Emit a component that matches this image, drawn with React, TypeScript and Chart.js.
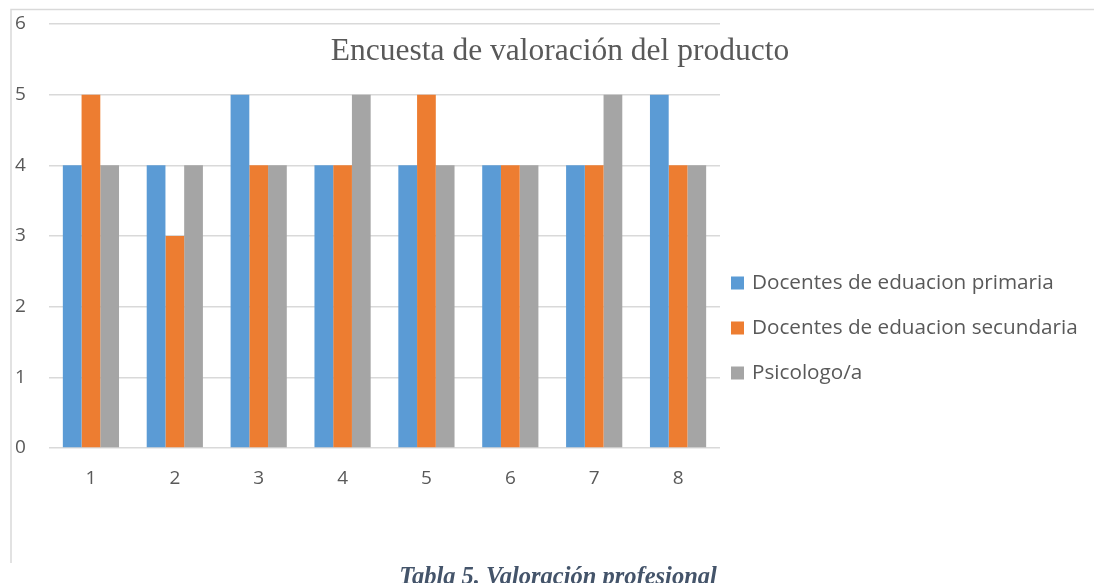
import React, { useEffect, useRef } from "react";
import { Chart, registerables } from "chart.js";

Chart.register(...registerables);

const categories = ["1", "2", "3", "4", "5", "6", "7", "8"];
const primaria = [4, 4, 5, 4, 4, 4, 4, 5];
const secundaria = [5, 3, 4, 4, 5, 4, 4, 4];
const psicologo = [4, 4, 4, 5, 4, 4, 5, 4];
const seriesLabels = [
  "Docentes de eduacion primaria",
  "Docentes de eduacion secundaria",
  "Psicologo/a",
];
const seriesColors = ["#5B9BD5", "#ED7D31", "#A5A5A5"];
const titleText = "Encuesta de valoración del producto";
const captionText = "Tabla 5. Valoración profesional";

const TEXT = "#595959";
const GRID = "#D9D9D9";
const SANS = "'Open Sans', 'Noto Sans', sans-serif";

const decorPlugin = {
  id: "decor",
  beforeDraw(chart: any) {
    const ctx = chart.ctx;
    ctx.save();
    ctx.strokeStyle = GRID;
    ctx.lineWidth = 1.5;
    ctx.beginPath();
    ctx.moveTo(11, 563);
    ctx.lineTo(11, 9.5);
    ctx.lineTo(1094, 9.5);
    ctx.stroke();
    ctx.restore();
  },
  afterDraw(chart: any) {
    const ctx = chart.ctx;
    ctx.save();
    // title
    ctx.fillStyle = TEXT;
    ctx.font = "31.5px 'Liberation Serif', 'Times New Roman', serif";
    ctx.textAlign = "center";
    ctx.textBaseline = "alphabetic";
    ctx.fillText(titleText, 560, 60);
    // legend
    const lx = 731;
    const ys = [283, 328, 373];
    ctx.font = "20.7px " + SANS;
    ctx.textAlign = "left";
    ctx.textBaseline = "middle";
    chart.data.datasets.forEach((ds: any, i: number) => {
      ctx.fillStyle = ds.backgroundColor;
      ctx.fillRect(lx, ys[i] - 6.5, 13, 13);
      ctx.fillStyle = TEXT;
      ctx.fillText(ds.label, lx + 21, ys[i]);
    });
    ctx.restore();
  },
};

export default function App() {
  const ref = useRef<HTMLCanvasElement | null>(null);
  useEffect(() => {
    if (!ref.current) return;
    const chart = new Chart(ref.current, {
      type: "bar",
      data: {
        labels: categories,
        datasets: [primaria, secundaria, psicologo].map((d, i) => ({
          label: seriesLabels[i],
          data: d,
          backgroundColor: seriesColors[i],
          borderWidth: 0,
          categoryPercentage: 0.67,
          barPercentage: 1,
        })),
      },
      options: {
        animation: false,
        responsive: false,
        maintainAspectRatio: false,
        layout: { padding: { left: 15, right: 374, top: 24, bottom: 60 } },
        plugins: {
          legend: { display: false },
          title: { display: false },
          tooltip: { enabled: false },
        },
        scales: {
          y: {
            min: 0,
            max: 6,
            ticks: {
              stepSize: 1,
              color: TEXT,
              font: { family: SANS, size: 19 },
              crossAlign: "far",
              padding: 0,
            },
            grid: { color: GRID, lineWidth: 1.5, drawTicks: false },
            border: { display: false },
            afterFit: (s: any) => {
              s.width = 34;
            },
          },
          x: {
            ticks: {
              color: TEXT,
              font: { family: SANS, size: 19 },
              padding: 19,
            },
            grid: { display: false, drawTicks: false },
            border: { display: false },
            afterFit: (s: any) => {
              s.height = 75;
            },
          },
        },
      },
      plugins: [decorPlugin],
    });
    return () => chart.destroy();
  }, []);

  return (
    <div style={{ position: "absolute", left: 0, top: 0, width: 1094, height: 583, overflow: "hidden", background: "#fff" }}>
      <canvas ref={ref} width={1094} height={583} style={{ position: "absolute", left: 0, top: 0 }} />
      <div
        style={{
          position: "absolute",
          left: 308,
          width: 500,
          top: 562,
          textAlign: "center",
          fontFamily: "'Liberation Serif', 'Times New Roman', serif",
          fontWeight: "bold",
          fontStyle: "italic",
          fontSize: 24.5,
          lineHeight: "28px",
          color: "#44546A",
          whiteSpace: "nowrap",
        }}
      >
        {captionText}
      </div>
    </div>
  );
}
